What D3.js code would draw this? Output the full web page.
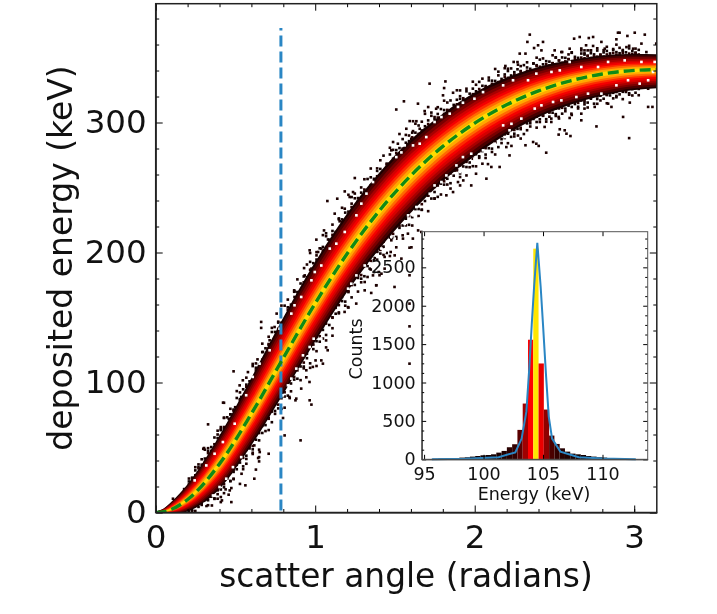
<!DOCTYPE html>
<html>
<head>
<meta charset="utf-8">
<script src="https://cdn.jsdelivr.net/npm/d3@7"></script>
<style>
  html, body { margin: 0; padding: 0; background: #fff; }
  svg { display: block; filter: blur(0.35px); }
  text { font-family: "DejaVu Sans", sans-serif; fill: #111; }
</style>
</head>
<body>
<div id="chart"></div>
<script>
// main panel: band centre and how far it reaches above / below (keV), read at these angles
var bandAngle = [0,.05,.1,.2,.4,.6,.8,1,1.2,1.4,1.6,1.8,2,2.2,2.4,2.6,2.8,3,3.1416];
var bandCenter = [0,.6,2.5,10,37.4,76,118.9,160.9,199,231.8,259.2,281.6,299.5,313.6,324.3,332.1,337.3,340.1,340.7];
var bandUpper = [1,3,7,14,26,33,37,38,37,35,33,30,28,25,22,19,17,15,14];
var bandLower = [1,2,5,11,23,29,33,35,35,35,34,32,30,27,24,22,20,18,17];

// colour steps of the 2d histogram, outside to inside
var levelShare = [.84,.76,.67,.58,.5,.42,.34,.26,.18,.09];
var levelColor = ["#1c0000","#480000","#7a0000","#a80000","#d40000","#f50000","#ff2a00","#ff6a00","#ffa800","#ffdc00"];

// rough edge of the band: one entry per 0.02 rad from 0.2 rad, in percent of the reach above / below
var fringeAngle0 = 0.2, fringeStep = 0.02;
var upperNear = [76,81,74,84,79,72,86,77,83,75,80,88,73,78,85,76,82,74,87,79,72,84,77,81,75,89,78,73,83,80,76,86,74,79,82,72,85,77,88,75,81,73,84,78,76,87,80,74,83,72,79,86,75,82,77,89,73,81,76,84,78,72,85,80,74,88,77,83,75,79,86,73,82,76,81,87,74,78,84,72,80,85,77,75,83,79,88,73,76,82,74,86,78,81,72,84,77,80,75,87,79,73,83,76,85,74,81,78,72,86,80,75,84,77,82,73,88,76,79,85,74,81,72,83,78,86,75,80,77,84,73,82,76,87,79,74,85,72,81,78,83,75];
var upperFar = [92,86,97,89,101,84,94,90,105,87,96,83,99,91,88,103,85,95,92,86,108,90,84,98,93,87,102,89,96,83,106,91,85,100,88,94,97,84,104,90,86,99,92,110,87,95,83,101,89,93,85,107,96,88,91,84,103,98,86,94,90,112,87,100,83,95,92,105,89,85,97,91,102,84,88,96,109,86,93,99,90,83,104,87,95,92,85,101,89,97,84,106,91,86,98,93,88,111,85,94,100,83,90,96,87,103,92,84,99,89,105,86,95,91,83,102,88,97,93,85,108,90,84,100,94,87,96,89,104,83,92,98,86,101,91,85,95,88,107,93,84,99];
var upperOut = [108,0,112,101,0,118,104,0,0,110,99,115,0,106,0,121,102,0,109,0,113,100,0,117,0,105,111,0,98,119,0,107,0,103,114,0,0,110,122,0,101,0,116,104,0,108,0,99,113,0,120,0,106,0,102,111,0,117,0,100,109,0,0,115,103,0,124,0,107,98,0,112,0,105,118,0,101,0,110,0,114,104,0,0,120,99,0,108,0,116,102,0,111,0,106,0,123,100,0,113,0,105,0,119,103,0,109,0,98,115,0,107,0,0,112,101,0,118,0,104,110,0,0,121,99,0,108,0,114,0,102,117,0,106,0,111,100,0,120,0,105,0];
var lowerNear = [79,73,85,76,82,88,74,80,77,84,72,87,78,75,83,81,73,86,76,79,89,74,82,77,72,85,80,75,88,78,83,73,76,84,81,72,87,79,74,82,77,86,75,80,73,89,78,83,76,72,85,81,74,79,87,77,73,84,75,82,88,78,72,80,85,76,83,74,79,86,73,81,77,89,75,84,72,78,82,76,87,74,80,73,85,79,77,83,72,88,75,81,76,84,74,78,86,73,80,82,77,72,85,75,89,79,74,83,76,81,73,87,78,84,72,80,75,86,77,82,74,79,88,73,85,76,81,72,84,78,75,87,80,74,83,77,72,86,79,76,82,73];
var lowerFar = [88,96,84,102,91,86,99,93,107,85,90,97,83,104,89,94,87,110,92,84,98,86,101,95,88,83,106,91,97,85,93,103,87,90,100,84,96,89,112,92,86,98,83,105,94,88,91,101,85,97,87,108,90,84,95,99,86,103,92,83,96,89,111,85,94,100,88,91,84,106,97,86,93,102,89,83,98,90,109,85,95,87,104,92,84,99,88,96,91,107,83,94,86,101,90,97,85,105,89,92,84,100,96,87,93,113,86,91,83,98,95,88,103,85,90,99,84,106,93,87,96,89,102,83,91,97,86,108,94,85,100,88,92,84,104,95,87,90,98,83,101,86];
var lowerOut = [0,106,114,0,102,0,120,0,109,99,0,116,0,104,111,0,0,118,101,0,107,0,125,0,103,113,0,98,0,110,119,0,105,0,0,115,100,0,122,0,108,0,102,117,0,112,0,99,0,106,121,0,0,114,103,0,110,0,118,100,0,107,0,126,0,104,0,113,99,0,116,0,109,102,0,120,0,105,0,111,0,101,117,0,0,108,123,0,103,0,114,98,0,110,0,106,119,0,100,0,113,0,104,0,121,0,107,101,0,116,0,0,111,99,0,105,118,0,102,0,124,0,108,0,100,115,0,0,112,103,0,120,0,106,99,0,117,0,104,110,0,113];

// isolated histogram cells outside the band [angle, energy]
var strayCells = [
  [.42,83.4],[.32,66.8],[.40,64.7],[.38,59],[.45,71],[.46,74.5],[.53,78.8],[.49,80],[.29,48],[.27,32],[.17,17],[.10,9.6],
  [.61,50.6],[.60,44],[.64,41.6],[.64,38.3],[.56,36.5],[.53,28.8],[.48,25],[.52,21],[.61,25],[.43,16.8],[.466,17.8],[.40,10.9],
  [.407,8.3],[.449,12.7],[.31,4],[.344,4.4],[.38,9.6],[.48,107.6],[.57,107],[.63,116.8],[.414,83.5],[.295,48.6],[.42,71.7],
  [1.0,111.7],[.957,85.3],[.968,82],[.868,85.3],[.832,87],[.90,54.5],[.80,58.3],[.79,71.7],[.644,45.5],[.70,44.2],[.634,40.9],
  [.62,32],[.554,19.9],[.466,7],[.456,16],[.40,7],[.653,145.6],[.653,141],[.75,152],[.737,141.7],[.706,131.5],[.695,125],
  [.664,122.5],[.68,118.6],[.538,100.7],[.518,96.8],[.618,102],[.528,87.9],[1.06,126],[1.10,135],[1.07,123.8],[1.03,116],
  [1.04,113.5],[.994,116],[.977,111],[.936,108.4],[.936,103],[.956,99.4],[.904,94.3],[.873,86.6],[.83,87.9],[.862,169],[.904,170],
  [.862,164.8],[1.24,256.3],[1.177,246],[1.229,245.5],[1.068,238.6],[1.13,240.4],[1.208,241.7],[1.22,236.6],[1.177,232.7],
  [1.145,223],[1.166,223.8],[1.114,228.9],[1.047,216],[.999,208.9],[1.072,209],[1.03,202],[.957,200.7],[1.01,199.4],[.922,187],
  [.926,181.4],[.951,178.9],[1.0,196.8],[.968,186.6],[1.637,216],[1.595,203],[1.542,209.7],[1.50,203],[1.49,196.8],[1.465,199.4],
  [1.407,182.7],[1.354,181.4],[1.375,173.8],[1.302,176.3],[1.302,169.9],[1.365,194.8],[1.333,186.6],[1.39,184],[1.427,186.6],
  [1.532,194.3],[1.709,328.9],[1.808,330.6],[1.80,325.5],[1.793,319.9],[1.90,323.7],[1.856,321.9],[1.548,315.3],[1.50,309],
  [1.636,313.5],[1.584,300.1],[1.605,300],[1.626,300],[1.678,307.8],[1.70,310.9],[1.563,294.2],[1.605,292.4],[1.647,294.2],
  [1.678,293],[1.594,286.5],[1.51,282.7],[1.48,284],[1.469,277.6],[1.74,303.2],[1.75,309.6],[2.21,273.7],[2.148,264.8],[2.04,267.3],
  [2.0,259.6],[2.065,255.8],[2.075,267],[1.94,258.3],[1.866,262],[1.887,253.2],[1.90,250.6],[1.856,245.5],[1.814,243],[1.74,240.4],
  [2.19,280.1],[2.096,264.8],[1.97,250.6],[2.337,366.6],[2.322,361],[2.42,361],[2.389,358.4],[2.364,356.3],[2.274,352],[2.31,352],
  [2.41,354.5],[2.236,345.6],[2.184,342.5],[2.2,340.4],[2.263,343.5],[2.65,364.8],[2.615,363.5],[2.707,364],[2.734,364.8],[2.69,358.4],
  [2.734,357.9],[2.66,354.5],[2.68,354.5],[2.70,354.5],[2.72,354.5],[2.786,361],[2.89,368.1],[2.90,368.1],[2.995,368.1],[2.949,365.6],
  [3.058,366.6],[2.88,363],[2.88,358.9],[2.943,357],[3.037,359.7],[3.13,359.7],[2.587,355.8],[2.535,353.2],[2.493,354.5],[2.807,355.8],
  [2.985,355.8],[3.068,353.2],[2.964,314.3],[3.079,311],[3.106,311],[2.922,303.3],[2.755,296],[2.96,287],[2.66,305.8],[2.66,300.7],
  [2.598,305.8],[2.587,302.5],[2.518,303.3],[2.472,302],[2.472,299.4],[2.525,293.8],[2.556,293],[2.567,290.4],[2.592,288.6],[2.518,289.7],
  [2.43,295.6],[2.4,299.4],[2.358,284],[2.378,282.7],[2.393,281],[2.31,281.5],[2.222,281],[2.44,275.8],[2.263,289],[2.2,290.4],[3.079,325],
  [2.849,311],[2.744,311],[2.68,309.7],[2.828,313.5],[1.583,202.7],[1.374,173.8],[1.489,172.5],[1.343,167.9],[1.583,181.5],[1.583,159.7],
  [1.583,142.2],[1.583,113.5],[1.657,214.8],[1.604,209.7],[1.573,213.5],[1.427,195.6],[1.395,181.5],[1.197,157],[1.249,159.7],[1.176,153.3],
  [1.469,208.4],[1.416,203.3]
];

// empty bins inside the dark edge of the band [angle, energy]
var emptyCells = [
  [1.281,236.6],[1.25,227.6],[1.313,244.3],[1.354,253.2],[1.375,259.7],[1.177,214.8],[1.124,205.8],[1.083,202],[1.03,189],[.989,184],[.968,177.6],
  [1.626,234],[1.605,227.6],[1.574,227.6],[1.532,214.8],[1.49,209.7],[1.448,205.8],[1.427,199.4],[1.375,196.8],[1.333,190.4],[1.302,189],[1.25,181.4],
  [1.218,175],[1.198,171.2],[1.647,225],[1.553,221],[1.469,211],[1.407,202],[1.74,299.4],[1.688,287.8],[1.647,282.7],[1.605,281.4],[1.532,276],[1.50,272.4],
  [1.553,281.4],[1.783,303.2],[1.835,305.8],[1.887,311],[1.918,314.2],[1.99,317.3],[2.044,322.4],[2.21,293],[2.18,287.8],[2.117,282.7],[2.044,277.6],[1.97,275],
  [1.918,272.4],[1.877,266],[1.814,258.3],[1.783,253.2],[1.74,250.6],[1.71,244.2],[1.99,271],[1.9,260.9],[2.473,337.9],[2.525,339.1],[2.828,345.6],[2.932,346.8],
  [3.12,345.6],[2.765,341.7],[2.587,345.6],[2.66,341.7],[2.326,331.5],[2.232,331.5],[2.17,327.6],[3.037,345.6],[2.378,336.6],[2.953,331.5],[3.026,328.9],[3.079,331.5],
  [3.11,337.9],[2.88,327.6],[2.786,321.2],[2.702,321.2],[2.629,318.6],[2.535,316],[2.483,314.8],[2.41,312.2],[2.368,309.7],[2.284,302],[2.222,298],[2.17,296.8],[2.66,313.5],
  [.768,140.4],[.842,152],[.862,158.4],[.706,123.8],[.643,113.5],[.60,103.3],[.559,89.2],[.904,164.8],[1.061,140.4],[1.03,132.7],[.982,132.7],[.957,126.3],[.915,119.9],
  [.873,109.7],[.842,102],[.821,96.8],[.789,89.2],[1.10,145.6],[.413,53.2],[.361,44.2],[.309,35.2],[.236,23.7],[.487,67.3],[.528,41.6],[.476,33.9],[.434,25],[.392,18.6],[.351,12.1],[.298,5.7]
];

var cellAngle = 0.0165, cellEnergy = 2;

// vertical marker
var markerAngle = 0.785;
var markerEnergy = [1.5, 372.7];

var xTicks = [0,1,2,3];
var yTicks = [0,100,200,300];
var xMinor = [.2,.4,.6,.8,1.2,1.4,1.6,1.8,2.2,2.4,2.6,2.8,3.0];
var yMinor = [20,40,60,80,120,140,160,180,220,240,260,280,320,340,360,380];

// inset: energy histogram
var histStart = 95.3, histWidth = 0.444;
var histCounts = [4,6,9,9,13,17,22,26,35,43,52,56,65,87,109,157,196,383,726,1557,2743,1248,648,309,200,143,100,74,65,56,43,35,26,22,17,13,9,6,3];
var fitEnergy = [95.65,98.45,101.26,102.67,103.2,103.6,103.85,104.05,104.25,104.52,104.8,105,105.25,105.48,105.76,106.46,108,110,112.8];
var fitCounts = [2,8,28,90,270,620,1200,1750,2250,2820,2250,1750,1100,560,270,100,28,10,2];
var insetXTicks = [95,100,105,110];
var insetYTicks = [0,500,1000,1500,2000,2500];
var insetYMinor = [125,250,375,625,750,875,1125,1250,1375,1625,1750,1875,2125,2250,2375,2625,2750,2875];

var svg = d3.select("#chart").append("svg").attr("width", 717).attr("height", 614);

var x = d3.scaleLinear().domain([0, Math.PI]).range([155.7, 656.8]);
var y = d3.scaleLinear().domain([0, 391.4]).range([512.5, 3.7]);

var centerAt = d3.scaleLinear().domain(bandAngle).range(bandCenter);
var upperAt = d3.scaleLinear().domain(bandAngle).range(bandUpper);
var lowerAt = d3.scaleLinear().domain(bandAngle).range(bandLower);

svg.append("clipPath").attr("id", "plotClip").append("rect")
  .attr("x", 155.7).attr("y", 3.7).attr("width", 501.1).attr("height", 508.8);

var plot = svg.append("g").attr("clip-path", "url(#plotClip)");

function drawCells(cells, color) {
  plot.append("g").selectAll("rect").data(cells).enter().append("rect")
    .attr("x", function(d) { return x(d[0]); })
    .attr("y", function(d) { return y(d[1] + cellEnergy); })
    .attr("width", x(cellAngle) - x(0))
    .attr("height", y(0) - y(cellEnergy))
    .attr("fill", color);
}

// turn a percent list into [angle, energy] cells; 0 means that column has no cell
function fringeCells(list, sign, reachAt) {
  var out = [];
  list.forEach(function(p, i) {
    if (!p) return;
    var a = fringeAngle0 + i * fringeStep;
    out.push([a, centerAt(a) + sign * reachAt(a) * p / 100]);
  });
  return out;
}

drawCells(strayCells, "#1c0000");
drawCells(fringeCells(upperOut, 1, upperAt), "#1c0000");
drawCells(fringeCells(lowerOut, -1, lowerAt), "#1c0000");
drawCells(fringeCells(upperFar, 1, upperAt), "#140000");
drawCells(fringeCells(lowerFar, -1, lowerAt), "#140000");
drawCells(fringeCells(upperNear, 1, upperAt), "#2a0000");
drawCells(fringeCells(lowerNear, -1, lowerAt), "#2a0000");

levelShare.forEach(function(share, i) {
  var area = d3.area()
    .x(function(d, k) { return x(d); })
    .y0(function(d, k) { return y(bandCenter[k] - bandLower[k] * share); })
    .y1(function(d, k) { return y(bandCenter[k] + bandUpper[k] * share); })
    .curve(d3.curveMonotoneX);
  plot.append("path").datum(bandAngle).attr("d", area).attr("fill", levelColor[i]);
});

drawCells(emptyCells, "#ffffff");

// blue marker and green fit
plot.append("line")
  .attr("x1", x(markerAngle)).attr("x2", x(markerAngle))
  .attr("y1", y(markerEnergy[0])).attr("y2", y(markerEnergy[1]))
  .attr("stroke", "#2a86c4").attr("stroke-width", 3).attr("stroke-dasharray", "11,5");

var fitLine = d3.line()
  .x(function(d) { return x(d); })
  .y(function(d, k) { return y(bandCenter[k]); })
  .curve(d3.curveMonotoneX);
plot.append("path").datum(bandAngle).attr("d", fitLine)
  .attr("fill", "none").attr("stroke", "#108a18").attr("stroke-width", 3.4).attr("stroke-dasharray", "11,5");

// axes, ticks point inward on all four sides
function ticks(axis, pos, values, size) {
  return svg.append("g").attr("transform", pos)
    .call(axis.tickValues(values).tickSize(size).tickFormat(""))
    .call(function(g) { g.select(".domain").remove(); });
}
var tickColor = "#222";

ticks(d3.axisBottom(x), "translate(0,512.5)", xMinor, -3.5);
ticks(d3.axisTop(x), "translate(0,3.7)", xMinor, -3.5);
ticks(d3.axisLeft(y), "translate(155.7,0)", yMinor, -3.5);
ticks(d3.axisRight(y), "translate(656.8,0)", yMinor, -3.5);
ticks(d3.axisTop(x), "translate(0,3.7)", xTicks, -7);
ticks(d3.axisRight(y), "translate(656.8,0)", yTicks, -7);

var xAxis = svg.append("g").attr("transform", "translate(0,512.5)")
  .call(d3.axisBottom(x).tickValues(xTicks).tickSizeInner(-7).tickSizeOuter(0).tickPadding(12).tickFormat(d3.format("d")));
xAxis.selectAll("text").style("font-size", "32.5px").attr("dy", "0.71em");
var yAxis = svg.append("g").attr("transform", "translate(155.7,0)")
  .call(d3.axisLeft(y).tickValues(yTicks).tickSizeInner(-7).tickSizeOuter(0).tickPadding(9).tickFormat(d3.format("d")));
yAxis.selectAll("text").style("font-size", "32.5px");

svg.append("rect").attr("x", 155.7).attr("y", 3.7).attr("width", 501.1).attr("height", 508.8)
  .attr("fill", "none").attr("stroke", tickColor).attr("stroke-width", 1.5);

svg.append("text").attr("x", 406).attr("y", 587).attr("text-anchor", "middle")
  .style("font-size", "32.8px").text("scatter angle (radians)");
svg.append("text").attr("transform", "translate(72,258) rotate(-90)").attr("text-anchor", "middle")
  .style("font-size", "33px").text("deposited energy (keV)");

// inset
var ix = d3.scaleLinear().domain([94.8, 113.8]).range([421.7, 647.7]);
var iy = d3.scaleLinear().domain([0, 2964]).range([459.3, 231.7]);

svg.append("rect").attr("x", 421.7).attr("y", 231.7).attr("width", 226).attr("height", 227.6)
  .attr("fill", "#fff");

var barColor = d3.scaleLinear().domain([0, 1000, 1557, 2743])
  .range(["#0a0000", "#d80000", "#ff0000", "#ffe600"]);

svg.append("g").selectAll("rect").data(histCounts).enter().append("rect")
  .attr("x", function(d, i) { return ix(histStart + i * histWidth); })
  .attr("y", function(d) { return iy(d); })
  .attr("width", ix(histWidth) - ix(0))
  .attr("height", function(d) { return iy(0) - iy(d); })
  .attr("fill", function(d) { return barColor(d); });

var histLine = d3.line()
  .x(function(d) { return ix(d); })
  .y(function(d, k) { return iy(fitCounts[k]); })
  .curve(d3.curveLinear);
svg.append("path").datum(fitEnergy).attr("d", histLine)
  .attr("fill", "none").attr("stroke", "#2a86c4").attr("stroke-width", 2);

ticks(d3.axisLeft(iy), "translate(421.7,0)", insetYMinor, -2.5);
ticks(d3.axisRight(iy), "translate(647.7,0)", insetYMinor, -2.5);
ticks(d3.axisRight(iy), "translate(647.7,0)", insetYTicks, -4.5);
ticks(d3.axisTop(ix), "translate(0,231.7)", insetXTicks, -4.5);

var ixAxis = svg.append("g").attr("transform", "translate(0,459.3)")
  .call(d3.axisBottom(ix).tickValues(insetXTicks).tickSizeInner(-4.5).tickSizeOuter(0).tickPadding(8).tickFormat(d3.format("d")));
ixAxis.selectAll("text").style("font-size", "17.5px");
var iyAxis = svg.append("g").attr("transform", "translate(421.7,0)")
  .call(d3.axisLeft(iy).tickValues(insetYTicks).tickSizeInner(-4.5).tickSizeOuter(0).tickPadding(6).tickFormat(d3.format("d")));
iyAxis.selectAll("text").style("font-size", "17.5px");

svg.append("rect").attr("x", 421.7).attr("y", 231.7).attr("width", 226).attr("height", 227.6)
  .attr("fill", "none").attr("stroke", "#555").attr("stroke-width", 1);

svg.append("text").attr("x", 534).attr("y", 500).attr("text-anchor", "middle")
  .style("font-size", "17.5px").text("Energy (keV)");
svg.append("text").attr("transform", "translate(362,349) rotate(-90)").attr("text-anchor", "middle")
  .style("font-size", "17.5px").text("Counts");
</script>
</body>
</html>
